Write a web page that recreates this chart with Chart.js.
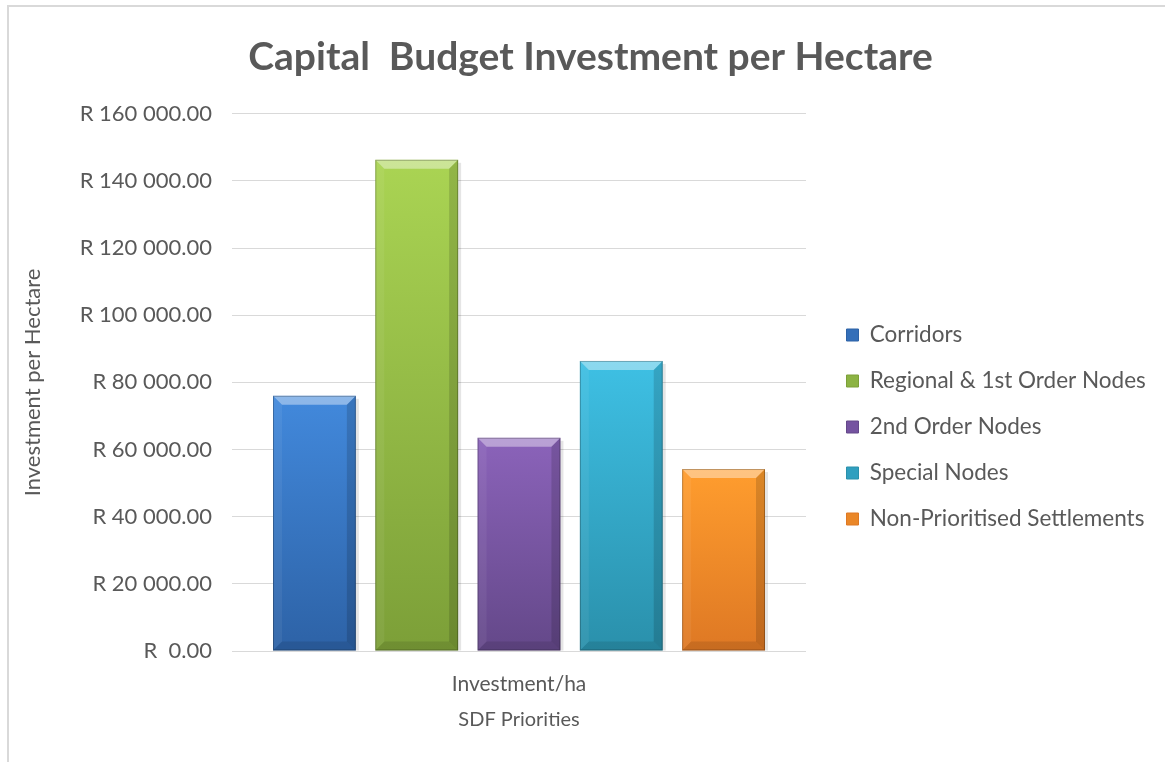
<!DOCTYPE html>
<html lang="en">
  <head>
    <meta charset="UTF-8" />
    <title>Capital Budget Investment per Hectare</title>
    <script src="https://cdn.jsdelivr.net/npm/chart.js"></script>
    <style>
      html, body { margin: 0; padding: 0; background: #fff; overflow: hidden; }
      .frame {
        position: absolute; left: 7px; top: 5px; width: 1170px; height: 770px;
        border-top: 2px solid #d9d9d9; border-left: 2px solid #d9d9d9;
      }
      .wrap { position: absolute; left: 0; top: 0; width: 1165px; height: 762px; }
    </style>
  </head>
  <body>
    <div class="frame"></div>
    <div class="wrap"><canvas id="chart"></canvas></div>
    <script>
      const categories = ["Investment/ha"];
      const seriesNames = [
        "Corridors",
        "Regional & 1st Order Nodes",
        "2nd Order Nodes",
        "Special Nodes",
        "Non-Prioritised Settlements",
      ];
      const seriesValues = [76000, 146300, 63500, 86400, 54200];
      const yTicks = [0, 20000, 40000, 60000, 80000, 100000, 120000, 140000, 160000];

      // top colour, bottom colour, legend swatch
      const palette = [
        ["#4289dc", "#2d62a6", "#346fb9"],
        ["#aad453", "#7c9f38", "#8cb343"],
        ["#8b63ba", "#644889", "#7553a0"],
        ["#3ec0e4", "#2a90ab", "#309fbf"],
        ["#ff9d2e", "#de7824", "#ea8728"],
      ];

      const font = "Lato, 'Open Sans', sans-serif";
      const grey = "#595959";

      // R 160 000.00 style labels
      function rand(v) {
        if (v === 0) return "R  0.00";
        const s = Math.round(v).toString().replace(/\B(?=(\d{3})+(?!\d))/g, " ");
        return "R " + s + ".00";
      }

      function barGradient(ctx, i) {
        const chart = ctx.chart;
        if (!chart.chartArea || !chart.scales.y) return palette[i][2];
        const top = chart.scales.y.getPixelForValue(seriesValues[i]);
        const bottom = chart.scales.y.getPixelForValue(0);
        const g = chart.ctx.createLinearGradient(0, top, 0, bottom);
        g.addColorStop(0, palette[i][0]);
        g.addColorStop(1, palette[i][1]);
        return g;
      }

      const datasets = seriesNames.map((name, i) => ({
        label: name,
        data: [seriesValues[i]],
        backgroundColor: (ctx) => barGradient(ctx, i),
        borderWidth: 0,
        categoryPercentage: 0.891,
        barPercentage: 0.81,
      }));

      // bevelled edges on each bar, drawn from the bar element geometry
      const bevel = {
        id: "bevel",
        afterDatasetsDraw(chart) {
          const c = chart.ctx;
          chart.data.datasets.forEach((ds, di) => {
            chart.getDatasetMeta(di).data.forEach((bar) => {
              const p = bar.getProps(["x", "y", "base", "width"], true);
              const l = p.x - p.width / 2, r = p.x + p.width / 2;
              const t = p.y, b = p.base, d = 9;
              c.save();
              // soft shadow on the right
              c.fillStyle = "rgba(0,0,0,0.10)";
              c.fillRect(r, t + 3, 3, b - t - 3);
              // top face
              c.fillStyle = "rgba(255,255,255,0.40)";
              c.beginPath();
              c.moveTo(l, t); c.lineTo(r, t); c.lineTo(r - d, t + d); c.lineTo(l + d, t + d);
              c.closePath(); c.fill();
              // left face
              c.fillStyle = "rgba(255,255,255,0.06)";
              c.beginPath();
              c.moveTo(l, t); c.lineTo(l + d, t + d); c.lineTo(l + d, b - d); c.lineTo(l, b);
              c.closePath(); c.fill();
              // right face
              c.fillStyle = "rgba(0,0,0,0.14)";
              c.beginPath();
              c.moveTo(r, t); c.lineTo(r - d, t + d); c.lineTo(r - d, b - d); c.lineTo(r, b);
              c.closePath(); c.fill();
              // bottom face
              c.fillStyle = "rgba(0,0,0,0.10)";
              c.beginPath();
              c.moveTo(l, b); c.lineTo(l + d, b - d); c.lineTo(r - d, b - d); c.lineTo(r, b);
              c.closePath(); c.fill();
              // dark rim
              c.strokeStyle = "rgba(0,0,0,0.25)";
              c.lineWidth = 1;
              c.strokeRect(l + 0.5, t + 0.5, p.width - 1, b - t - 1);
              c.restore();
            });
          });
        },
      };

      // fixed legend width and offset next to the plot
      const legendPlace = {
        id: "legendPlace",
        afterInit(chart) {
          const lg = chart.legend;
          const fit = lg.fit;
          lg.fit = function () {
            fit.call(this);
            if (this.isHorizontal()) return;
            this.width = 359;
          };
        },
        afterLayout(chart) {
          const lg = chart.legend;
          lg.left += 17; lg.right += 17;
          lg.top += 61; lg.bottom += 61;
        },
      };

      new Chart(document.getElementById("chart"), {
        type: "bar",
        data: { labels: categories, datasets: datasets },
        plugins: [bevel, legendPlace],
        options: {
          responsive: true,
          maintainAspectRatio: false,
          animation: false,
          layout: { padding: { left: 16, right: 0, top: 0, bottom: 30 } },
          plugins: {
            title: {
              display: true,
              text: "Capital  Budget Investment per Hectare",
              color: grey,
              font: { family: font, size: 39, weight: "bold" },
              padding: { top: 34, bottom: 33 },
            },
            legend: {
              position: "right",
              align: "center",
              labels: {
                color: grey,
                font: { family: font, size: 22.5 },
                boxWidth: 12,
                boxHeight: 12,
                padding: 23.5,
                generateLabels(chart) {
                  return chart.data.datasets.map((ds, i) => ({
                    text: ds.label,
                    fillStyle: palette[i][2],
                    strokeStyle: palette[i][1],
                    lineWidth: 1,
                    fontColor: grey,
                    datasetIndex: i,
                  }));
                },
              },
            },
            tooltip: { enabled: false },
          },
          scales: {
            x: {
              afterFit(scale) {
                scale.height = 81;
              },
              grid: { display: false },
              border: { display: false },
              ticks: { color: grey, font: { family: font, size: 21 }, padding: 13 },
              title: {
                display: true,
                text: "SDF Priorities",
                color: grey,
                font: { family: font, size: 20 },
                padding: { top: 0, bottom: 0 },
              },
            },
            y: {
              min: 0,
              max: 160000,
              afterBuildTicks(scale) {
                scale.ticks = yTicks.map((v) => ({ value: v }));
              },
              afterFit(scale) {
                scale.width = 216;
              },
              grid: { color: "#d9d9d9", lineWidth: 1, drawTicks: false },
              border: { display: false },
              ticks: {
                color: grey,
                font: { family: font, size: 22 },
                padding: 20,
                callback: (v) => rand(v),
              },
              title: {
                display: true,
                text: "Investment per Hectare",
                color: grey,
                font: { family: font, size: 22 },
                padding: { top: 4, bottom: 0 },
              },
            },
          },
        },
      });
    </script>
  </body>
</html>
